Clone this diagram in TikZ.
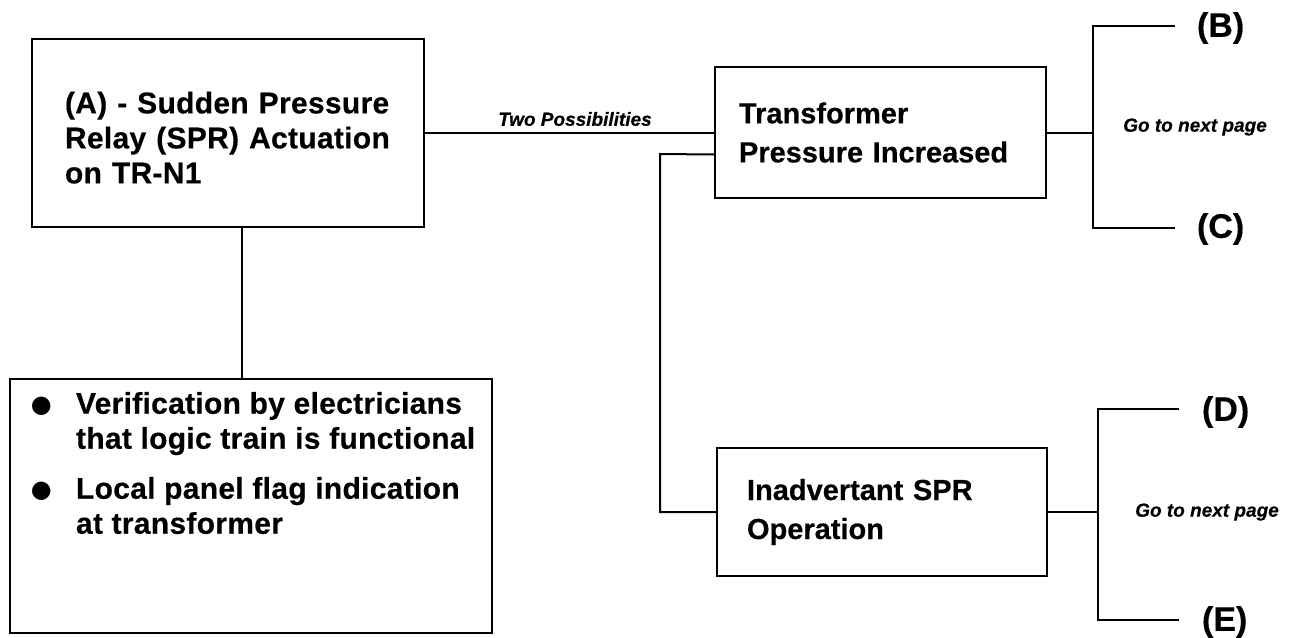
\documentclass[tikz,border=0pt]{standalone}
\usepackage{fontspec}
\setmainfont[FakeBold=0.4]{Liberation Sans}
\newfontfamily\fA[LetterSpace=1,FakeBold=0.4]{Liberation Sans}
\newfontfamily\fB[LetterSpace=1,FakeBold=0.4]{Liberation Sans}
\newfontfamily\fD{DejaVu Sans}
\newcommand{\blt}{\raisebox{1pt}{\fD\fontsize{24}{24}\selectfont ●}}
\begin{document}
\begin{tikzpicture}[x=1pt,y=-1pt,line width=2pt,
  box/.style={draw,rectangle,inner sep=0pt,align=left,line width=2pt},
  lbl/.style={inner sep=0pt,font=\bfseries\itshape\fontsize{19}{22}\selectfont},
  letter/.style={inner sep=0pt,anchor=west,font=\bfseries\fontsize{34}{38}\selectfont}]
\useasboundingbox[fill=white] (0,0) rectangle (1297,637);

% boxes
\node[box,minimum width=392pt,minimum height=188pt,text width=326pt,
      font=\fA\bfseries\fontsize{30}{35}\selectfont] (A) at (228,133)
  {\mbox{}\\[-4pt]\mbox{(A) - Sudden Pressure}\\\mbox{Relay (SPR) Actuation}\\\mbox{on TR-N1}};

\node[box,minimum width=331pt,minimum height=131pt,text width=283pt,
      font=\bfseries\fontsize{29}{39}\selectfont] (T) at (880.5,132.5)
  {\mbox{Transformer}\\\mbox{Pressure Increased}};

\node[box,minimum width=330pt,minimum height=128pt,text width=270pt,
      font=\bfseries\fontsize{29}{39}\selectfont] (I) at (882,512)
  {\mbox{Inadvertant SPR}\\\mbox{Operation}};

\node[draw,rectangle,line width=2pt,inner xsep=31pt,inner ysep=13pt,anchor=north west] (bul) at (9,378)
  {\parbox[c][228pt][t]{420pt}{\raggedright\fB\bfseries\fontsize{30}{35}\selectfont
   \makebox[35pt][l]{\hspace*{-10pt}\blt}\mbox{Verification by electricians}\\
   \hspace*{35pt}\mbox{that logic train is functional}\\[15pt]
   \makebox[35pt][l]{\hspace*{-10pt}\blt}\mbox{Local panel flag indication}\\
   \hspace*{35pt}\mbox{at transformer}}};

% labels
\node[lbl] (two) at (575,119) {Two Possibilities};
\node[lbl] (go1) at (1195,127) {Go to next page};
\node[lbl] (go2) at (1207,512) {Go to next page};

% bracket coordinates
\coordinate (jT) at (1093,132.5);
\coordinate (bT) at (1175,26);
\coordinate (cT) at (1175,228);
\coordinate (jI) at (1098,512);
\coordinate (dI) at (1179,409);
\coordinate (eI) at (1179,620);
\coordinate (k) at (660,154);

\node[letter] (B) at (1196,28) {(B)};
\node[letter] (C) at (1196,229) {(C)};
\node[letter] (D) at (1201,412) {(D)};
\node[letter] (E) at (1201,622) {(E)};

% connectors
\draw (A.east |- T.west) -- (T.west);
\draw ([yshift=-22pt]T.west) -- (k) |- (I.west);
\draw ([xshift=14pt]A.south) -- ([xshift=14pt]A.south |- bul.north);
\draw (T.east) -- (jT);
\draw (bT) -| (jT) |- (cT);
\draw (I.east) -- (jI);
\draw (dI) -| (jI) |- (eI);
\end{tikzpicture}
\end{document}
